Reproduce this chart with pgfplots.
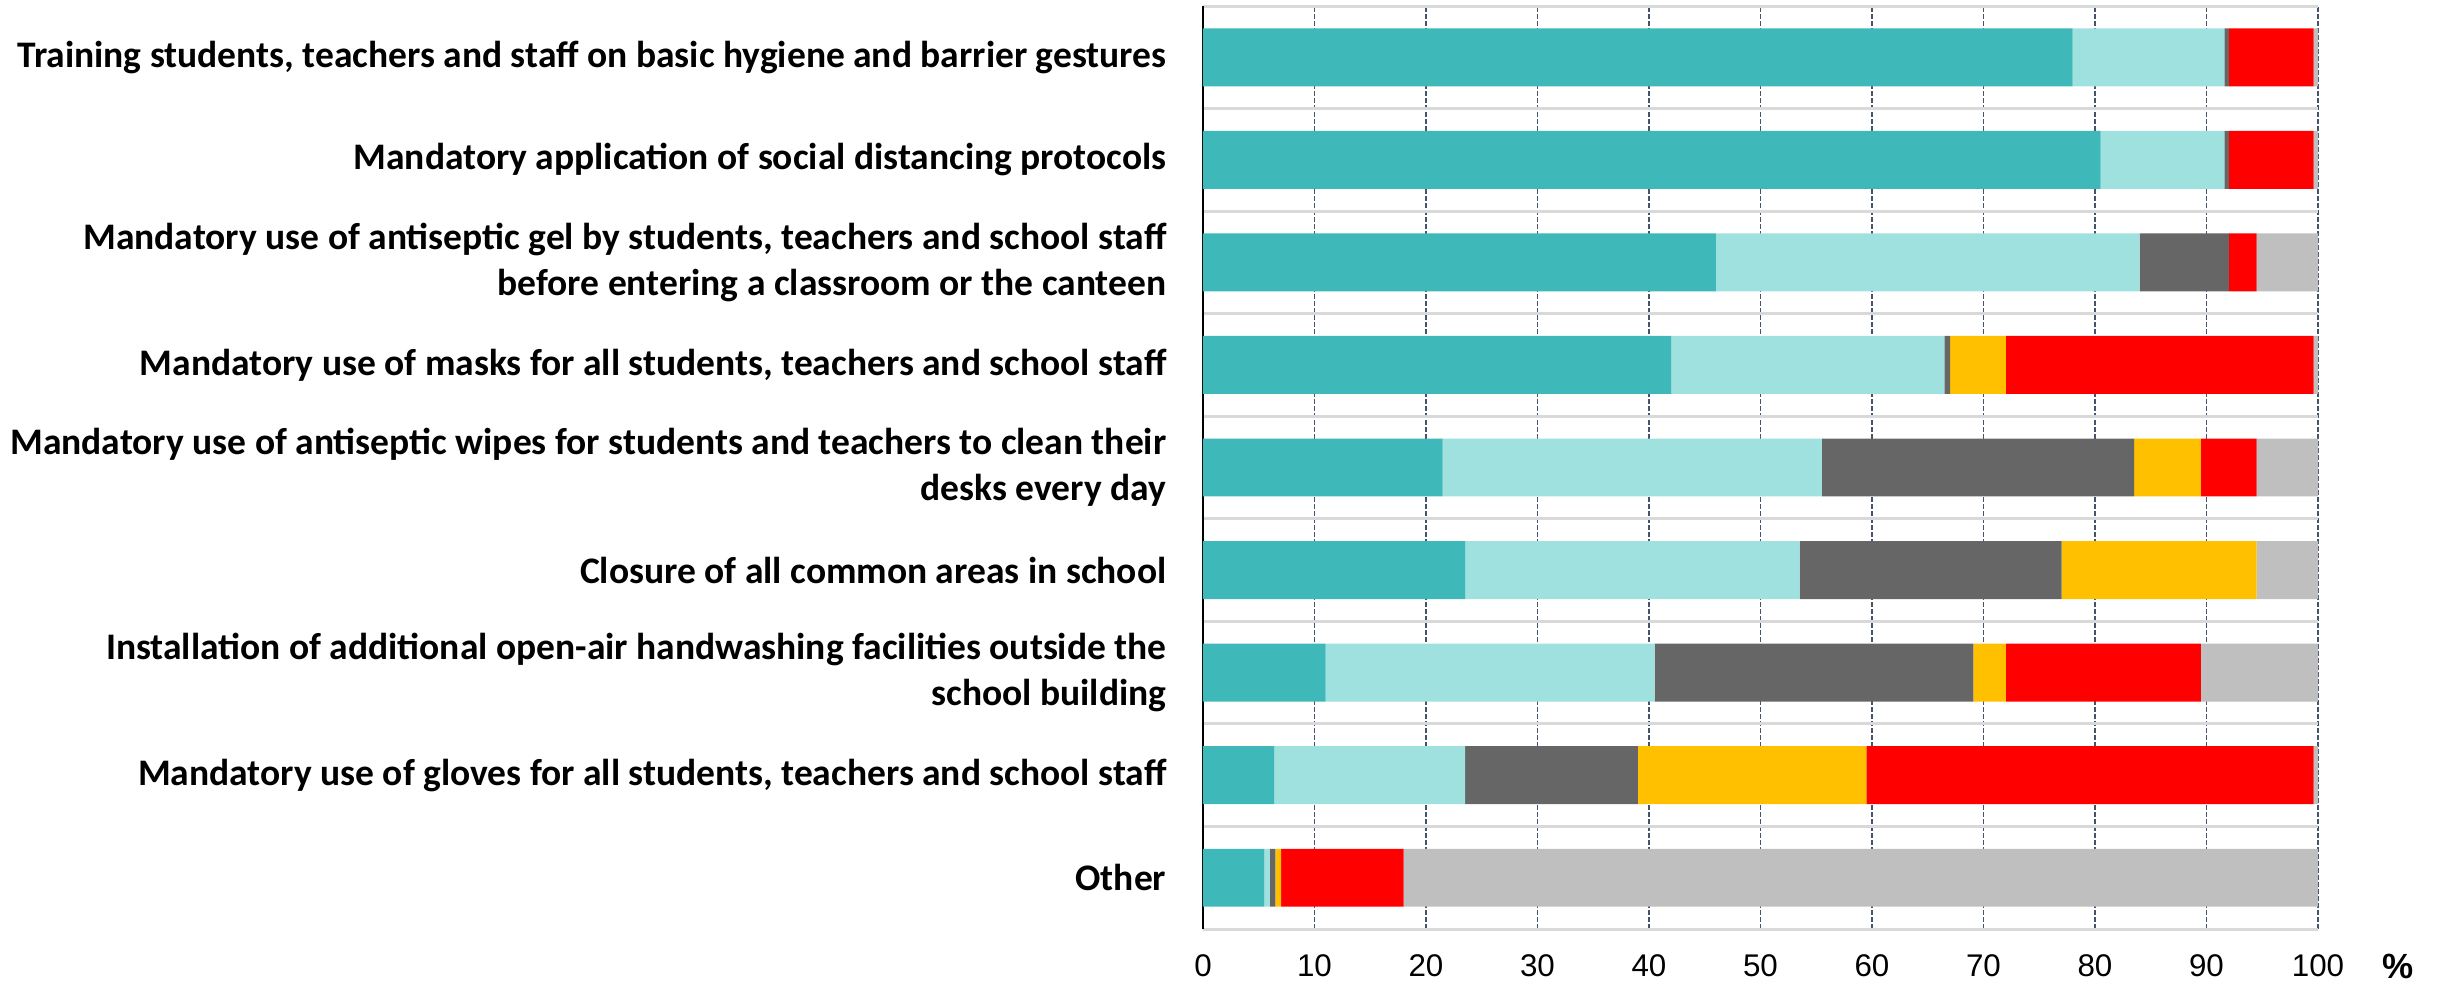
\documentclass[border=0pt]{standalone}
\usepackage{pgfplots}
\usepackage{pgfplotstable}
\pgfplotsset{compat=1.18}
\usepackage{fontspec}
\setmainfont{Liberation Sans}
\newfontfamily\carlito{Carlito}
\definecolor{cteal}{HTML}{3EB8B8}
\definecolor{clight}{HTML}{9FE1DF}
\definecolor{cdgray}{HTML}{666666}
\definecolor{cyellow}{HTML}{FFC000}
\definecolor{cred}{HTML}{FF0000}
\definecolor{clgray}{HTML}{BFBFBF}
\definecolor{gridc}{HTML}{44546A}
\definecolor{sepc}{HTML}{D9D9D9}

% y: 8 = top row (Training), 0 = bottom row (Other)
\pgfplotstableread{
y teal light dgray yellow red lgray
8 78.0 13.6 0.4 0.0 7.6 0.4
7 80.5 11.1 0.4 0.0 7.6 0.4
6 46.0 38.0 8.0 0.0 2.5 5.5
5 42.0 24.5 0.5 5.0 27.6 0.4
4 21.5 34.0 28.0 6.0 5.0 5.5
3 23.5 30.0 23.5 17.5 0.0 5.5
2 11.0 29.5 28.6 2.9 17.5 10.5
1 6.4 17.1 15.5 20.5 40.1 0.4
0 5.5 0.5 0.5 0.5 11.0 82.0
}\data

\begin{document}
\begin{tikzpicture}
\path[use as bounding box] (-360.9pt,-16.2pt) rectangle (372pt,278.7pt);
\begin{axis}[
  at={(0,0)}, anchor=south west,
  scale only axis, width=334.5pt, height=276.9pt,
  xbar stacked, bar width=0.565,
  xmin=0, xmax=100, ymin=-0.5, ymax=8.5,
  enlargelimits=false,
  xtick={0,10,...,100},
  ytick={0,1,2,3,4,5,6,7,8},
  yticklabels={
    {Other},
    {Mandatory use of gloves for all students, teachers and school staff},
    {Installation of additional open-air handwashing facilities outside the\\school building},
    {Closure of all common areas in school},
    {Mandatory use of antiseptic wipes for students and teachers to clean their\\desks every day},
    {Mandatory use of masks for all students, teachers and school staff},
    {Mandatory use of antiseptic gel by students, teachers and school staff\\before entering a classroom or the canteen},
    {Mandatory application of social distancing protocols},
    {Training students, teachers and staff on basic hygiene and barrier gestures}
  },
  minor ytick={-0.5,0.5,1.5,2.5,3.5,4.5,5.5,6.5,7.5,8.5},
  yminorgrids, xmajorgrids, ymajorgrids=false,
  major tick length=0pt, minor tick length=0pt,
  axis lines*=left,
  x axis line style={draw=none},
  y axis line style={black, line width=0.6pt},
  major grid style={dash pattern=on 1.5pt off 0.6pt, color=gridc, line width=0.5pt},
  minor grid style={color=sepc, line width=0.9pt},
  /pgf/number format/assume math mode=true,
  xticklabel style={font=\fontsize{9.4}{11}\selectfont, inner sep=0pt, anchor=north, yshift=-7.6pt},
  yticklabel style={font=\carlito\bfseries\fontsize{11.25}{13.7}\selectfont, align=right, inner sep=0pt, anchor=east, xshift=-10.8pt},
  xlabel={\bfseries\%},
  xlabel style={at={(rel axis cs:1,0)}, anchor=center, xshift=24pt, yshift=-11.1pt, font=\fontsize{10.5}{12}\selectfont, inner sep=0pt},
]
\addplot[fill=cteal, draw=none] table[x=teal, y=y] {\data};
\addplot[fill=clight, draw=none] table[x=light, y=y] {\data};
\addplot[fill=cdgray, draw=none] table[x=dgray, y=y] {\data};
\addplot[fill=cyellow, draw=none] table[x=yellow, y=y] {\data};
\addplot[fill=cred, draw=none] table[x=red, y=y] {\data};
\addplot[fill=clgray, draw=none] table[x=lgray, y=y] {\data};
\end{axis}
\end{tikzpicture}
\end{document}
